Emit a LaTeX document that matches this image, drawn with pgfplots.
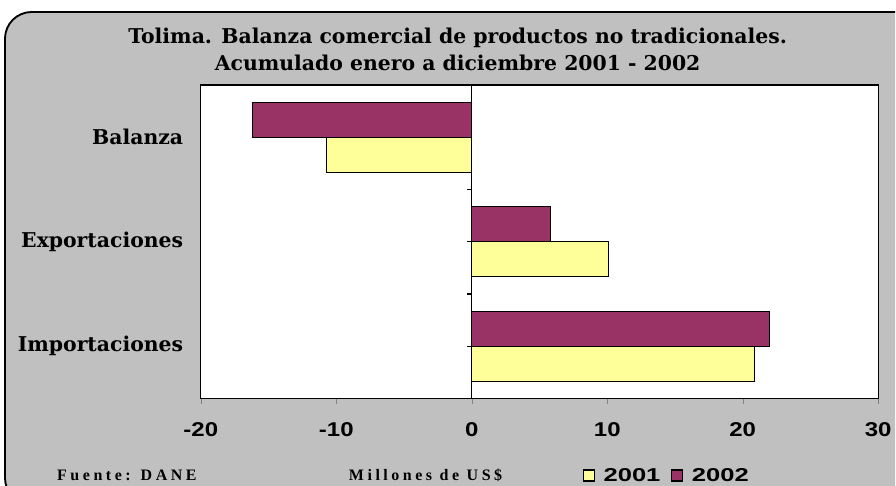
\documentclass[border=0pt]{standalone}
\usepackage{pgfplots}
\pgfplotsset{compat=1.18}
\usepackage{fontspec}
\setmainfont{Liberation Serif}
\newfontfamily\titlefont{DejaVu Serif}
\newfontfamily\footfont{Liberation Serif}[LetterSpace=22]
\newfontfamily\sansb{Liberation Sans}[FakeStretch=1.2]
\newfontfamily\sansl{Liberation Sans}[FakeStretch=1.37]
\definecolor{bgray}{HTML}{C0C0C0}
\definecolor{yel}{HTML}{FFFF99}
\definecolor{mar}{HTML}{993366}
\begin{document}
\begin{tikzpicture}
\begin{scope}[x=0.75pt,y=-0.75pt]
\useasboundingbox (0,0) rectangle (896,486);
\begin{scope}
\clip (0,0) rectangle (896,486);
\draw[line width=1.4pt, fill=bgray, rounded corners=20pt] (5,12) rectangle (925,505);
\end{scope}
\node[font=\titlefont\bfseries\fontsize{15.3}{18}\selectfont] at (458,38) {Tolima. Balanza comercial de productos no tradicionales.};
\node[font=\titlefont\bfseries\fontsize{15.3}{18}\selectfont] at (458,63) {Acumulado enero a diciembre 2001 - 2002};
\node[anchor=west, inner sep=0pt, font=\footfont\bfseries\fontsize{12}{14}\selectfont] at (57,476) {Fuente: DANE};
\node[anchor=west, inner sep=0pt, font=\footfont\bfseries\fontsize{12}{14}\selectfont] at (349,476) {Millones de US\$};
\end{scope}
\begin{axis}[
  at={(150.75pt,-299.25pt)}, anchor=south west,
  width=508.5pt, height=235.5pt, scale only axis,
  xbar, bar width=26.25pt,
  xmin=-20, xmax=30, ymin=-0.5, ymax=2.5,
  xtick={-20,-10,0,10,20,30}, xticklabels={-20,-10,0,10,20,30},
  xtick pos=left, xtick align=outside, major tick length=3.75pt,
  xticklabel style={font=\sansb\bfseries\fontsize{15}{17}\selectfont, yshift=-11pt},
  ytick={0,1,2}, yticklabels={Importaciones,Exportaciones,Balanza},
  ytick style={draw=none},
  yticklabel style={font=\titlefont\bfseries\fontsize{15.3}{18}\selectfont, xshift=-6pt},
  axis line style={line width=1pt},
  axis background/.style={fill=white},
  legend style={at={(0.5634,-0.245)}, anchor=west, draw=none, fill=none, inner sep=0pt,
    legend columns=2, font=\sansl\bfseries\fontsize{14}{16}\selectfont,
    nodes={inner xsep=2pt},
    /tikz/every odd column/.append style={column sep=4.5pt},
    /tikz/every even column/.append style={column sep=6pt}},
  legend image code/.code={\draw[#1, line width=0.9pt] (0pt,-4.1pt) rectangle (8.25pt,4.1pt);},
]
\addplot[fill=yel, draw=black, line width=0.8pt, bar shift=-13.125pt] coordinates {(20.9,0) (10.1,1) (-10.7,2)};
\addplot[fill=mar, draw=black, line width=0.9pt, bar shift=13.125pt] coordinates {(22.0,0) (5.8,1) (-16.2,2)};
\legend{2001,2002}
\draw[line width=0.9pt] (axis cs:0,-0.5) -- (axis cs:0,2.5);
\draw[line width=0.9pt] (axis cs:0,0) -- ([xshift=-3.75pt]axis cs:0,0);
\draw[line width=0.9pt] (axis cs:0,0.5) -- ([xshift=-3.75pt]axis cs:0,0.5);
\draw[line width=0.9pt] (axis cs:0,1) -- ([xshift=-3.75pt]axis cs:0,1);
\draw[line width=0.9pt] (axis cs:0,1.5) -- ([xshift=-3.75pt]axis cs:0,1.5);
\draw[line width=0.9pt] (axis cs:0,2) -- ([xshift=-3.75pt]axis cs:0,2);
\end{axis}
\end{tikzpicture}
\end{document}
